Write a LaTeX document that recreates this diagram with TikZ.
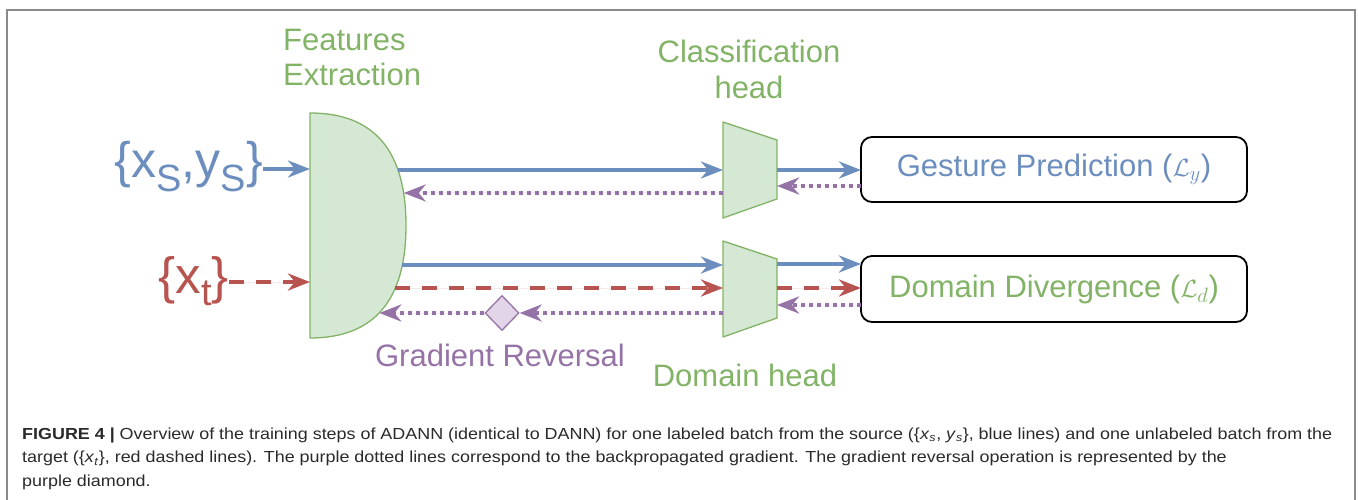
\documentclass[tikz,border=0pt]{standalone}
\usepackage{fontspec}
\setmainfont{Liberation Sans}
\newfontfamily\capfont[FakeStretch=1.12]{Liberation Sans}
\usetikzlibrary{arrows.meta,shapes.geometric}
\definecolor{dgreen}{HTML}{82B366}
\definecolor{lgreen}{HTML}{D5E8D4}
\definecolor{dblue}{HTML}{6C8EBF}
\definecolor{dred}{HTML}{B85450}
\definecolor{dpurple}{HTML}{9673A6}
\definecolor{lpurple}{HTML}{E1D5E7}
\definecolor{framegray}{HTML}{8A8A8A}
\definecolor{captxt}{HTML}{2A2A2A}
\newcommand{\lowsub}[2]{\raisebox{-#1}{\fontsize{38}{38}\selectfont #2}}
\begin{document}
\begin{tikzpicture}[x=1pt,y=-1pt,
  tipend/.style={-{Stealth[length=22pt,width=17pt,inset=7pt]}},
  fwd/.style={tipend, line width=4pt, draw=dblue, fill=dblue},
  tgt/.style={tipend, line width=4pt, draw=dred, fill=dred, dash pattern=on 15pt off 12pt},
  grad/.style={tipend, line width=4pt, draw=dpurple, fill=dpurple, dash pattern=on 4pt off 4pt},
  block/.style={draw=dgreen, fill=lgreen, line width=1.3pt, line join=round},
  loss/.style={draw=black, line width=1.8pt, rounded corners=11pt, minimum width=386pt,
               minimum height=65pt, inner sep=0pt, font=\fontsize{31}{36}\selectfont},
  lbl/.style={inner sep=0pt, font=\fontsize{31}{36}\selectfont},
  captionline/.style={inner sep=0pt, anchor=base west, text=captxt, font=\capfont\fontsize{16}{20}\selectfont},
]
\useasboundingbox (0,0) rectangle (1358,500);
% outer frame of the figure panel
\draw[framegray, line width=2pt] (7,500) -- (7,10) -- (1355,10) -- (1355,500);

% feature extractor (D-shaped block)
\draw[block] (310,113) .. controls (374,113) and (406,150.5) .. (406,225.5)
             .. controls (406,300.5) and (374,338) .. (310,338) -- cycle;
\node[inner sep=0pt, minimum width=96pt, minimum height=225pt] (fe) at (358,225.5) {};
\coordinate (fe-in1) at (310,169);
\coordinate (fe-in2) at (310,282);
\coordinate (fe-o1) at (398,170);
\coordinate (fe-b1) at (403.7,193);
\coordinate (fe-o2) at (402.4,265);
\coordinate (fe-o3) at (395.3,288);
\coordinate (fe-b2) at (379.3,313);

% classification head and domain head (trapezoids)
\draw[block] (723,122) -- (777,140) -- (777,199) -- (723,218) -- cycle;
\draw[block] (723,241) -- (777,259) -- (777,318) -- (723,337) -- cycle;
\node[inner sep=0pt, minimum width=54pt, minimum height=96pt] (ch) at (750,170) {};
\node[inner sep=0pt, minimum width=54pt, minimum height=96pt] (dh) at (750,289) {};
\coordinate (ch-i1) at (723,170);
\coordinate (ch-b1) at (723,193);
\coordinate (ch-o1) at (777,170);
\coordinate (ch-b2) at (777,186);
\coordinate (dh-i1) at (723,265);
\coordinate (dh-i2) at (723,288);
\coordinate (dh-b1) at (723,313);
\coordinate (dh-o1) at (777,264);
\coordinate (dh-o2) at (777,288);
\coordinate (dh-b2) at (777,305);

% loss boxes
\node[loss, text=dblue] (gp) at (1054,169.5) {Gesture Prediction ($\mathcal{L}_y$)};
\node[loss, text=dgreen, minimum height=66pt] (dd) at (1054,289) {Domain Divergence ($\mathcal{L}_d$)};
\coordinate (gp-i) at (861,170);
\coordinate (gp-b) at (861,186);
\coordinate (dd-i1) at (861,264);
\coordinate (dd-i2) at (861,288);
\coordinate (dd-b) at (861,305);

% gradient reversal layer
\node[diamond, draw=dpurple, fill=lpurple, line width=1.3pt, inner sep=0pt,
      minimum width=34pt, minimum height=35pt] (grl) at (502,313) {};

% inputs
\node[lbl, anchor=base east, text=dblue, font=\fontsize{50}{52}\selectfont] (xs) at (263,178)
  {\{x\lowsub{14pt}{S},y\lowsub{14pt}{S}\}};
\node[lbl, anchor=base east, text=dred, font=\fontsize{51}{52}\selectfont] (xt) at (229,293)
  {\{x\lowsub{12pt}{t}\}};
\coordinate (xs-out) at ([yshift=9pt]xs.base east);
\coordinate (xt-out) at ([yshift=11pt]xt.base east);

% titles
\node[lbl, anchor=base west, text=dgreen] (t-fe1) at (283,51) {Features};
\node[lbl, anchor=base west, text=dgreen] (t-fe2) at (283,86) {Extraction};
\node[lbl, anchor=base, text=dgreen] (t-ch1) at (749,63) {Classification};
\node[lbl, anchor=base, text=dgreen] (t-ch2) at (749,99) {head};
\node[lbl, anchor=base, text=dpurple] (t-grl) at (500,366) {Gradient Reversal};
\node[lbl, anchor=base, text=dgreen] (t-dh) at (745,386) {Domain head};

% forward passes
\draw[fwd] (xs-out) -- (fe-in1);
\draw[tgt] (xt-out) -- (fe-in2);
\draw[fwd] (fe-o1) -- (ch-i1);
\draw[fwd] (ch-o1) -- (gp-i);
\draw[fwd] (fe-o2) -- (dh-i1);
\draw[tgt] (fe-o3) -- (dh-i2);
\draw[fwd] (dh-o1) -- (dd-i1);
\draw[tgt] (dh-o2) -- (dd-i2);

% backpropagated gradients
\draw[grad] (gp-b) -- (ch-b2);
\draw[grad] (ch-b1) -- (fe-b1);
\draw[grad] (dd-b) -- (dh-b2);
\draw[grad] (dh-b1) -- (grl.east);
\draw[grad] (grl.west) -- (fe-b2);

% caption
\node[captionline] (cap1) at (22,439) {\makebox[1310pt][s]{\textbf{FIGURE 4 |} Overview of the training steps of ADANN (identical to DANN) for one labeled batch from the source (\{\textit{x}\textsubscript{\textit{s}}, \textit{y}\textsubscript{\textit{s}}\}, blue lines) and one unlabeled batch from the}};
\node[captionline] (cap2) at (22,462.5) {target (\{\textit{x}\textsubscript{\textit{t}}\}, red dashed lines). The purple dotted lines correspond to the backpropagated gradient. The gradient reversal operation is represented by the};
\node[captionline] (cap3) at (22,486) {purple diamond.};
\end{tikzpicture}
\end{document}
